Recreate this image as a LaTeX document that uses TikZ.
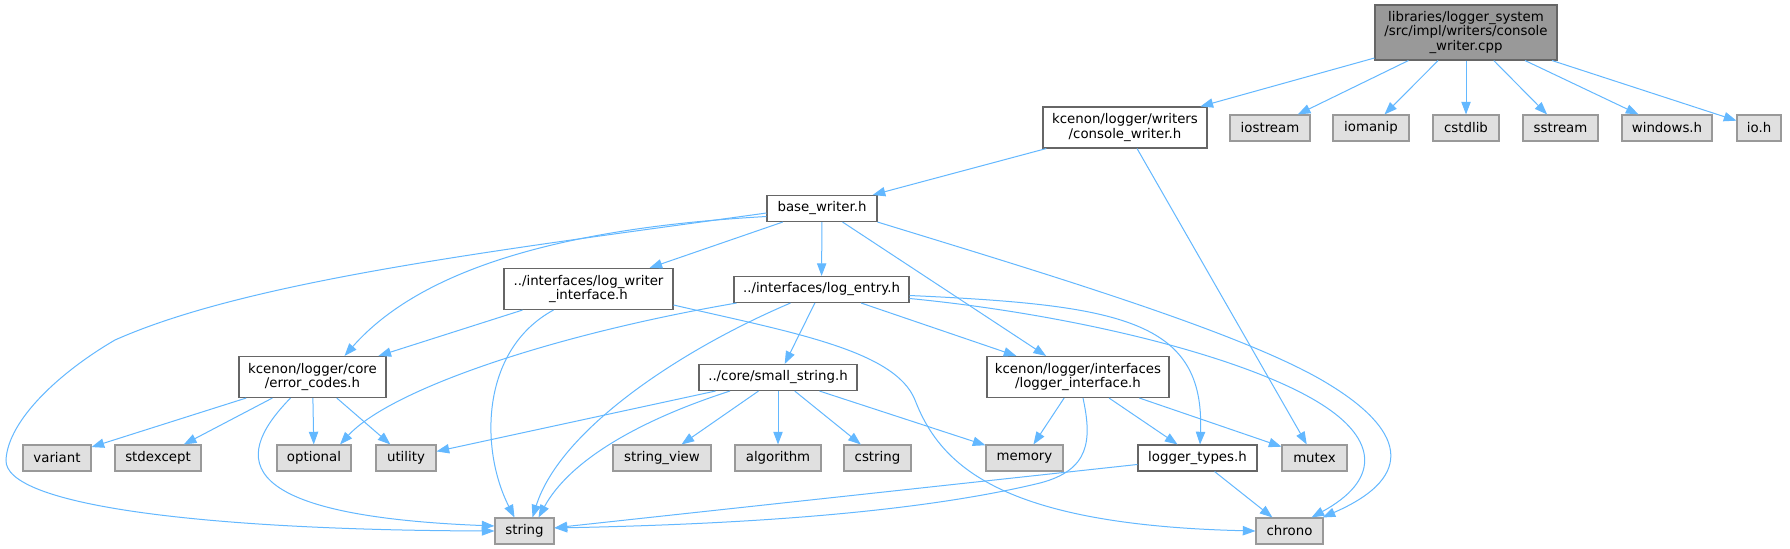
\documentclass[tikz,border=0pt]{standalone}
\usepackage{fontspec}
\setmainfont{DejaVu Sans}
\usepackage{tikz}
\usetikzlibrary{arrows.meta, calc}

\definecolor{edgeblue}{HTML}{63B8FF}
\definecolor{hdrline}{HTML}{666666}
\definecolor{sysline}{HTML}{999999}
\definecolor{sysfill}{HTML}{E0E0E0}
\definecolor{srcfill}{HTML}{999999}

\begin{document}
\begin{tikzpicture}[
    x=0.75pt, y=-0.75pt,
    every node/.style={font=\fontsize{10}{11}\selectfont, inner sep=0pt, align=center},
    hdr/.style={draw=hdrline, fill=white, line width=0.8pt, minimum height=19.5pt},
    sys/.style={draw=sysline, fill=sysfill, line width=0.8pt, minimum height=19.5pt},
    src/.style={draw=hdrline, fill=srcfill, line width=0.8pt},
    arr/.style={draw=edgeblue, line width=0.75pt, -{Triangle[length=9.5pt, width=7pt]}}
]
\path[use as bounding box, fill=white] (0,0) rectangle (1790,549);

% --- the .cpp file ---
\node[src, minimum width=136.5pt, minimum height=41.25pt] (root) at (1466,32.5)
    {libraries/logger\_system\\/src/impl/writers/console\\\_writer.cpp};

% --- direct includes ---
\node[hdr, minimum width=123pt, minimum height=30.75pt] (conswr) at (1125,127.5)
    {kcenon/logger/writers\\/console\_writer.h};
\node[sys, minimum width=60pt] (iostream) at (1270,128) {iostream};
\node[sys, minimum width=57pt] (iomanip) at (1371,128) {iomanip};
\node[sys, minimum width=49.5pt] (cstdlib) at (1466,128) {cstdlib};
\node[sys, minimum width=56.25pt] (sstream) at (1560.5,128) {sstream};
\node[sys, minimum width=67.5pt] (windowsh) at (1667,128) {windows.h};
\node[sys, minimum width=33pt] (ioh) at (1759,128) {io.h};

% --- project headers ---
\node[hdr, minimum width=82.5pt] (basewr) at (822,208.5) {base\_writer.h};
\node[hdr, minimum width=126.75pt, minimum height=30.75pt] (logwr) at (588.5,289)
    {../interfaces/log\_writer\\\_interface.h};
\node[hdr, minimum width=131.25pt] (logentry) at (821.5,289.5) {../interfaces/log\_entry.h};
\node[hdr, minimum width=110.25pt, minimum height=30.75pt] (errcodes) at (312.5,377)
    {kcenon/logger/core\\/error\_codes.h};
\node[hdr, minimum width=118.5pt] (smallstr) at (778,377.5) {../core/small\_string.h};
\node[hdr, minimum width=136.5pt, minimum height=30.75pt] (logif) at (1078,377)
    {kcenon/logger/interfaces\\/logger\_interface.h};
\node[hdr, minimum width=89.25pt] (logtypes) at (1197.5,458) {logger\_types.h};

% --- standard headers ---
\node[sys, minimum width=51pt] (variant) at (57,458) {variant};
\node[sys, minimum width=64.5pt] (stdexcept) at (158,458) {stdexcept};
\node[sys, minimum width=55.5pt] (optional) at (314,458) {optional};
\node[sys, minimum width=45pt] (utility) at (406,458) {utility};
\node[sys, minimum width=73.5pt] (strview) at (662,458) {string\_view};
\node[sys, minimum width=64.5pt] (algorithm) at (778,458) {algorithm};
\node[sys, minimum width=50.25pt] (cstring) at (877.5,458) {cstring};
\node[sys, minimum width=57.75pt] (memory) at (1024.5,458) {memory};
\node[sys, minimum width=48.75pt] (mutex) at (1314.5,458) {mutex};
\node[sys, minimum width=44.25pt] (string) at (524.5,531) {string};
\node[sys, minimum width=50.25pt] (chrono) at (1289.5,531) {chrono};

% --- console_writer.cpp ---
\draw[arr] (root) -- (conswr);
\draw[arr] (root) -- (iostream);
\draw[arr] (root) -- (iomanip);
\draw[arr] (root) -- (cstdlib);
\draw[arr] (root) -- (sstream);
\draw[arr] (root) -- (windowsh);
\draw[arr] (root) -- (ioh);

% --- console_writer.h ---
\draw[arr] (conswr) -- (basewr);
\draw[arr] (conswr) -- (mutex);

% --- base_writer.h ---
\draw[arr] ($(basewr.west)+(0,4.5)$) .. controls (500,250) and (250,280) .. (115,340)
    .. controls (60,372) and (8,420) .. (6,460)
    .. controls (4,505) and (200,530) .. (string.west);
\draw[arr] ($(basewr.west)+(0,8)$) .. controls (560,228) and (420,270) .. ($(errcodes.north)+(32,0)$);
\draw[arr] (basewr) -- (logwr);
\draw[arr] (basewr) -- (logentry);
\draw[arr] (basewr) -- (logif);
\draw[arr] (basewr.south east) .. controls (1050,275) and (1250,335) .. (1330,385)
    .. controls (1400,428) and (1420,475) .. ($(chrono.north east)+(-1,0)$);

% --- log_writer_interface.h ---
\draw[arr] (logwr) -- (errcodes);
\draw[arr] ($(logwr.south)+(-35,0)$) .. controls (480,350) and (480,450) .. ($(string.north)+(-10,0)$);
\draw[arr] ($(logwr.east)+(0,16)$) .. controls (790,332) and (895,350) .. (915,400)
    .. controls (940,465) and (1000,525) .. (chrono.west);

% --- log_entry.h ---
\draw[arr] ($(logentry.south west)+(3,0)$) .. controls (550,335) and (390,390) .. ($(optional.north)+(26,0)$);
\draw[arr] ($(logentry.south)+(-31,0)$) .. controls (680,350) and (560,430) .. ($(string.north)+(8,0)$);
\draw[arr] (logentry) -- (smallstr);
\draw[arr] (logentry) -- (logif);
\draw[arr] ($(logentry.east)+(0,6)$) .. controls (1120,305) and (1205,320) .. ($(logtypes.north)+(2.5,0)$);
\draw[arr] ($(logentry.east)+(0,9)$) .. controls (1080,315) and (1260,360) .. (1330,410)
    .. controls (1375,442) and (1380,480) .. ($(chrono.north)+(22,0)$);

% --- error_codes.h ---
\draw[arr] (errcodes) -- (variant);
\draw[arr] (errcodes) -- (stdexcept);
\draw[arr] (errcodes) -- (optional);
\draw[arr] (errcodes) -- (utility);
\draw[arr] ($(errcodes.south)+(-22,0)$) .. controls (240,450) and (215,515) .. ($(string.west)+(0,-5)$);

% --- small_string.h ---
\draw[arr] (smallstr) -- (utility);
\draw[arr] ($(smallstr.south)+(-48,0)$) .. controls (640,420) and (570,460) .. ($(string.north)+(14,0)$);
\draw[arr] (smallstr) -- (strview);
\draw[arr] (smallstr) -- (algorithm);
\draw[arr] (smallstr) -- (cstring);
\draw[arr] (smallstr) -- (memory);

% --- logger_interface.h ---
\draw[arr] (logif) -- (memory);
\draw[arr] ($(logif.south)+(5,0)$) .. controls (1092,440) and (1090,470) .. (1040,483)
    .. controls (900,517) and (700,525) .. ($(string.east)+(0,-3)$);
\draw[arr] (logif) -- (logtypes);
\draw[arr] (logif) -- (mutex);

% --- logger_types.h ---
\draw[arr] (logtypes) -- (string);
\draw[arr] (logtypes) -- (chrono);

\end{tikzpicture}
\end{document}
